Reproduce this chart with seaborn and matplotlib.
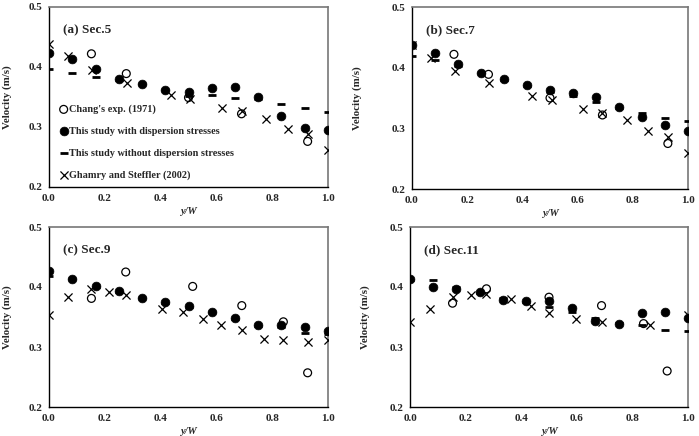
import matplotlib
matplotlib.use("Agg")
import matplotlib.pyplot as plt
import seaborn as sns
import pandas as pd

sns.set_theme(style="white")
plt.rcParams['font.family'] = ['Liberation Serif', 'DejaVu Serif']
plt.rcParams['font.weight'] = 'bold'

# ---------------- data ----------------
panel_titles = ["(a) Sec.5", "(b) Sec.7", "(c) Sec.9", "(d) Sec.11"]
series_labels = ["Chang's exp. (1971)",
                 "This study with dispersion stresses",
                 "This study without dispersion stresses",
                 "Ghamry and Steffler (2002)"]

study_x = [0.0, 0.083, 0.167, 0.25, 0.333, 0.417, 0.5, 0.583, 0.667, 0.75, 0.833, 0.917, 1.0]

with_disp_a = [0.424, 0.414, 0.396, 0.380, 0.372, 0.362, 0.359, 0.365, 0.366, 0.350, 0.318, 0.298, 0.295]
with_disp_b = [0.438, 0.424, 0.406, 0.392, 0.381, 0.371, 0.363, 0.358, 0.352, 0.335, 0.319, 0.305, 0.296]
with_disp_c = [0.427, 0.414, 0.402, 0.393, 0.381, 0.375, 0.368, 0.359, 0.348, 0.336, 0.337, 0.334, 0.326]
with_disp_d = [0.414, 0.400, 0.396, 0.391, 0.378, 0.376, 0.376, 0.365, 0.344, 0.338, 0.356, 0.358, 0.348]

no_disp_a = [0.397, 0.390, 0.383, 0.379, 0.371, 0.361, 0.352, 0.354, 0.349, 0.346, 0.339, 0.332, 0.325]
no_disp_b = [0.420, 0.412, 0.402, 0.392, 0.380, 0.370, 0.360, 0.353, 0.344, 0.334, 0.325, 0.317, 0.312]
no_disp_c = [0.419, 0.413, 0.400, 0.392, 0.381, 0.374, 0.367, 0.358, 0.346, 0.335, 0.334, 0.323, 0.321]
no_disp_d = [0.411, 0.411, 0.400, 0.390, 0.381, 0.375, 0.366, 0.359, 0.348, 0.340, 0.337, 0.329, 0.326]

chang_x_ab = [0.152, 0.277, 0.5, 0.69, 0.927]
chang_y_a = [0.422, 0.389, 0.349, 0.322, 0.276]
chang_y_b = [0.422, 0.389, 0.350, 0.322, 0.275]
chang_x_c = [0.152, 0.275, 0.515, 0.691, 0.84, 0.927]
chang_y_c = [0.381, 0.425, 0.401, 0.369, 0.342, 0.257]
chang_x_d = [0.153, 0.275, 0.5, 0.689, 0.84, 0.925]
chang_y_d = [0.373, 0.397, 0.383, 0.369, 0.339, 0.260]

gham_x_ab = [0.0, 0.068, 0.155, 0.278, 0.436, 0.506, 0.62, 0.69, 0.778, 0.855, 0.927, 1.0]
gham_y_a = [0.438, 0.418, 0.395, 0.373, 0.353, 0.346, 0.332, 0.326, 0.314, 0.296, 0.288, 0.261]
gham_y_b = [0.437, 0.416, 0.394, 0.374, 0.353, 0.346, 0.332, 0.326, 0.314, 0.296, 0.286, 0.260]
gham_x_c = [0.0, 0.068, 0.152, 0.216, 0.275, 0.406, 0.479, 0.551, 0.616, 0.691, 0.769, 0.84, 0.93, 1.0]
gham_y_c = [0.354, 0.384, 0.397, 0.392, 0.387, 0.364, 0.358, 0.346, 0.337, 0.328, 0.313, 0.311, 0.309, 0.311]
gham_x_d = [0.0, 0.072, 0.153, 0.218, 0.273, 0.365, 0.435, 0.5, 0.596, 0.689, 0.862, 1.0]
gham_y_d = [0.342, 0.364, 0.384, 0.387, 0.388, 0.380, 0.369, 0.356, 0.347, 0.342, 0.336, 0.354]

x_ticks = [0.0, 0.2, 0.4, 0.6, 0.8, 1.0]
y_ticks = [0.2, 0.3, 0.4, 0.5]

panels = [
    dict(chang=(chang_x_ab, chang_y_a), wd=with_disp_a, nd=no_disp_a, gham=(gham_x_ab, gham_y_a)),
    dict(chang=(chang_x_ab, chang_y_b), wd=with_disp_b, nd=no_disp_b, gham=(gham_x_ab, gham_y_b)),
    dict(chang=(chang_x_c, chang_y_c), wd=with_disp_c, nd=no_disp_c, gham=(gham_x_c, gham_y_c)),
    dict(chang=(chang_x_d, chang_y_d), wd=with_disp_d, nd=no_disp_d, gham=(gham_x_d, gham_y_d)),
]

# ---------------- layout ----------------
W, H = 699, 436
fig = plt.figure(figsize=(W / 100, H / 100), dpi=100)
boxes_px = [(49, 7, 328, 187), (412, 7, 688, 189), (49, 227, 328, 407), (410, 227, 688, 407)]
ylabel_x = [-0.133, -0.181, -0.133, -0.144]

for i, (p, box) in enumerate(zip(panels, boxes_px)):
    l, t, r, b = box
    ax = fig.add_axes([l / W, 1 - b / H, (r - l) / W, (b - t) / H])

    sns.scatterplot(x=p["chang"][0], y=p["chang"][1], ax=ax, marker='o', s=32,
                    facecolors='none', edgecolor='black', linewidth=0.9,
                    label=series_labels[0], zorder=3)
    sns.scatterplot(x=study_x, y=p["wd"], ax=ax, marker='o', s=40,
                    color='black', edgecolor='black', linewidth=0.5,
                    label=series_labels[1], zorder=4)
    sns.scatterplot(x=study_x, y=p["nd"], ax=ax, marker='_', s=40,
                    color='black', edgecolor='black', linewidth=2.0,
                    label=series_labels[2], zorder=4)
    sns.scatterplot(x=p["gham"][0], y=p["gham"][1], ax=ax, marker='x', s=34,
                    color='black', edgecolor='black', linewidth=0.9,
                    label=series_labels[3], zorder=5)

    ax.set_xlim(0, 1.0)
    ax.set_ylim(0.2, 0.5)
    ax.set_xticks(x_ticks)
    ax.set_yticks(y_ticks)
    ax.set_xticklabels([f"{v:.1f}" for v in x_ticks], fontsize=8, fontweight='bold')
    ax.set_yticklabels([f"{v:.1f}" for v in y_ticks], fontsize=8, fontweight='bold')
    ax.tick_params(axis='both', direction='out', length=3, width=0.8, color='black', pad=2)
    ax.set_xlabel("y/W", fontsize=7.5, fontstyle='italic', fontweight='bold', labelpad=3)
    ax.set_ylabel("Velocity (m/s)", fontsize=7.8, fontweight='bold')
    ax.yaxis.set_label_coords(ylabel_x[i], 0.5)

    for side in ['left', 'bottom']:
        ax.spines[side].set_color('black')
        ax.spines[side].set_linewidth(1.0)
    for side in ['top', 'right']:
        ax.spines[side].set_color('#777777')
        ax.spines[side].set_linewidth(1.2)
    for s in ax.spines.values():
        s.set_visible(True)

    ax.text(0.05, 0.905, panel_titles[i], transform=ax.transAxes, fontsize=9.5,
            fontweight='bold', va='top', ha='left')

    if i == 0:
        leg = ax.legend(loc='lower left', bbox_to_anchor=(0.012, 0.005), frameon=False,
                        fontsize=7.4, handletextpad=0.05, labelspacing=1.22,
                        handlelength=1.0, borderaxespad=0.2)
        for txt in leg.get_texts():
            txt.set_fontweight('bold')
    else:
        lg = ax.get_legend()
        if lg is not None:
            lg.remove()

fig.savefig("out.png", dpi=100)
